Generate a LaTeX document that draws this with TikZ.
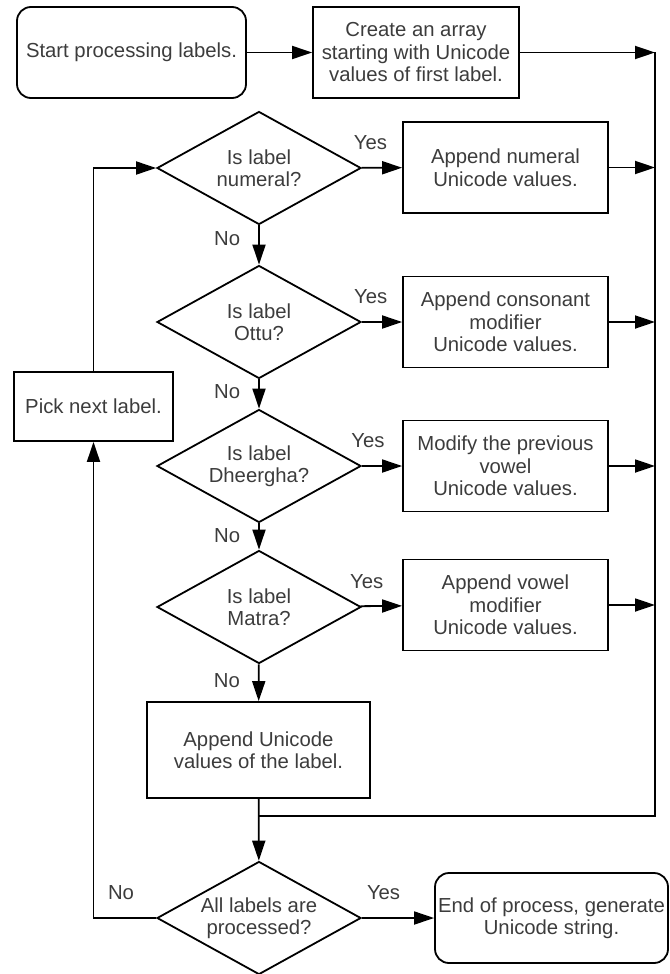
\documentclass[tikz,border=0pt]{standalone}
\usepackage{fontspec}
\setmainfont{Liberation Sans}
\usetikzlibrary{shapes.geometric,arrows.meta}
\definecolor{txtgray}{RGB}{60,60,60}
\begin{document}
\begin{tikzpicture}[x=1pt, y=-1pt, line width=1.8pt, >={Triangle[length=20pt,width=13pt]},
    every node/.style={text=txtgray, font=\fontsize{20.3}{22.5}\selectfont, align=center, inner sep=0pt},
    procbox/.style={draw, rectangle, minimum width=205pt, minimum height=91pt},
    termbox/.style={draw, rectangle, rounded corners=14pt, minimum height=91pt},
    decision/.style={draw, diamond, shape aspect=1.8, minimum width=204pt, minimum height=113pt},
    yeslbl/.style={above=17pt, pos=0.25},
    nolbl/.style={left=18pt}]

    \useasboundingbox (0,0) rectangle (669,974);

    \node[termbox, minimum width=229pt] (start) at (131.5,52.5) {Start processing labels.};
    \node[procbox, minimum width=206pt] (create) at (416,52.5) {Create an array\\starting with Unicode\\values of first label.};

    \node[decision] (isnum) at (259,168) {Is label\\numeral?};
    \node[procbox] (appnum) at (505.5,167.5) {Append numeral\\Unicode values.};
    \node[decision] (isottu) at (259,322) {Is label\\Ottu?};
    \node[procbox] (appcons) at (505.5,322) {Append consonant\\modifier\\Unicode values.};
    \node[decision] (isdhee) at (259,466) {Is label\\Dheergha?};
    \node[procbox] (modvow) at (505.5,466) {Modify the previous\\vowel\\Unicode values.};
    \node[decision] (ismatra) at (259,607) {Is label\\Matra?};
    \node[procbox] (appvow) at (505.5,605) {Append vowel\\modifier\\Unicode values.};

    \node[procbox, minimum width=223pt, minimum height=96pt] (applbl) at (258.5,750) {Append Unicode\\values of the label.};
    \node[decision] (alldone) at (259,918) {All labels are\\processed?};
    \node[termbox, minimum width=233pt, minimum height=90pt] (finish) at (551.5,918) {End of process, generate\\Unicode string.};
    \node[procbox, minimum width=159pt, minimum height=69pt] (picknext) at (93.5,406.5) {Pick next label.};

    \coordinate (railtop) at (655,52.5);
    \coordinate (railbot) at (655,816);
    \coordinate (merge) at (259,816);

    % feeds into the right rail
    \draw[->] (start) -- (create);
    \draw[->] (create) -- (create -| railtop);
    \draw[->] (appnum) -- (appnum -| railtop);
    \draw[->] (appcons) -- (appcons -| railtop);
    \draw[->] (modvow) -- (modvow -| railtop);
    \draw[->] (appvow) -- (appvow -| railtop);
    \draw (railtop) -- (railbot) -- (merge);

    % decisions
    \draw[->] (isnum) -- node[yeslbl, pos=0.22] (yes1) {Yes} (appnum);
    \draw[->] (isnum) -- node[nolbl, pos=0.33] (no1) {No} (isottu);
    \draw[->] (isottu) -- node[yeslbl, pos=0.22] (yes2) {Yes} (appcons);
    \draw[->] (isottu) -- node[nolbl, pos=0.43] (no2) {No} (isdhee);
    \draw[->] (isdhee) -- node[yeslbl, pos=0.15] (yes3) {Yes} (modvow);
    \draw[->] (isdhee) -- node[nolbl, pos=0.48] (no3) {No} (ismatra);
    \draw[->] (ismatra) -- node[yeslbl, pos=0.15] (yes4) {Yes} (appvow);
    \draw[->] (ismatra) -- node[nolbl, pos=0.43] (no4) {No} (applbl);

    \draw[->] (applbl) -- (alldone);
    \draw[->] (alldone) -- node[yeslbl, pos=0.3] (yes5) {Yes} (finish);
    \draw[->] (alldone) -| node[above=17pt, pos=0.28] (no5) {No} (picknext);
    \draw[->] (picknext) |- (isnum);

\end{tikzpicture}
\end{document}
